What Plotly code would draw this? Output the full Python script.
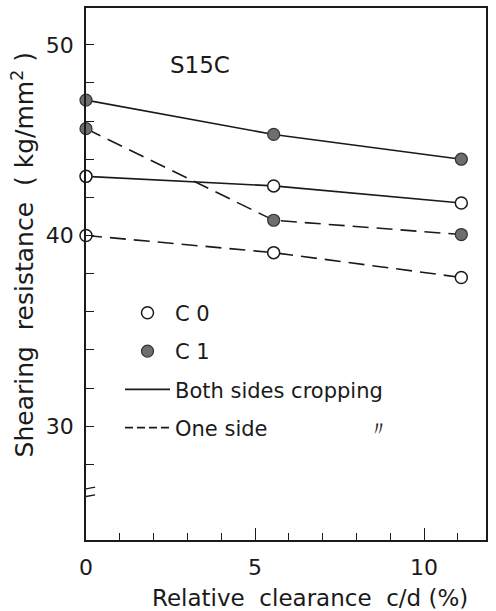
import plotly.graph_objects as go

# ---- data ----
clearance = [0.0, 5.55, 11.1]                 # relative clearance c/d (%)
c0_both = [43.1, 42.6, 41.7]                  # C0, both sides cropping
c0_one = [40.0, 39.1, 37.8]                   # C0, one side cropping
c1_both = [47.1, 45.3, 44.0]                  # C1, both sides cropping
c1_one = [45.6, 40.8, 40.05]                  # C1, one side cropping

x_major = [0, 5, 10]
x_labels = ["0", "5", "10"]
x_minor = [1, 2, 3, 4, 6, 7, 8, 9, 11]
y_major = [30, 40, 50]
y_labels = ["30", "40", "50"]
y_minor = [28, 32, 34, 36, 38, 42, 44, 46, 48]

FONT = "DejaVu Sans"
INK = "#1a1a1a"
GREY = "#6e6e6e"
DASH = "16px,8px"

open_marker = dict(symbol="circle", size=12, color="white", line=dict(color=INK, width=1.5))
fill_marker = dict(symbol="circle", size=12, color=GREY, line=dict(color="#333333", width=1.2))

fig = go.Figure()

series = [
    (c0_both, "solid", open_marker),
    (c0_one, DASH, open_marker),
    (c1_both, "solid", fill_marker),
    (c1_one, DASH, fill_marker),
]
for ys, dash, mk in series:
    fig.add_trace(go.Scatter(
        x=clearance, y=ys, mode="lines+markers",
        line=dict(color=INK, width=1.6, dash=dash),
        marker=mk, cliponaxis=False, showlegend=False, hoverinfo="skip",
    ))

# legend-only entries
fig.add_trace(go.Scatter(x=[None], y=[None], mode="markers", marker=open_marker,
                         name="C 0", legendgroup="a"))
fig.add_trace(go.Scatter(x=[None], y=[None], mode="markers", marker=fill_marker,
                         name="C 1", legendgroup="b"))
fig.add_trace(go.Scatter(x=[None], y=[None], mode="lines",
                         line=dict(color=INK, width=1.6),
                         name="Both sides cropping", legendgroup="c"))
fig.add_trace(go.Scatter(x=[None], y=[None], mode="lines",
                         line=dict(color=INK, width=1.6, dash="8px,4px"),
                         name="One side" + "\u00a0" * 15 + "\u3003", legendgroup="d"))

fig.update_layout(
    width=496, height=611,
    margin=dict(l=86, r=10, t=6, b=71),
    paper_bgcolor="white", plot_bgcolor="white",
    font=dict(family=FONT, size=22, color=INK),
    showlegend=True,
    legend=dict(
        x=0.085, y=0.465, xanchor="left", yanchor="top",
        bgcolor="rgba(0,0,0,0)", borderwidth=0,
        font=dict(family=FONT, size=21, color=INK),
        itemwidth=45, tracegroupgap=8,
    ),
    xaxis=dict(
        range=[0, 11.83], showgrid=False, zeroline=False,
        showline=True, linecolor=INK, linewidth=1.5, mirror=True,
        tickmode="array", tickvals=x_major, ticktext=x_labels,
        ticks="inside", ticklen=12, tickwidth=1.3, tickcolor=INK,
        ticklabelstandoff=7,
        minor=dict(tickmode="array", tickvals=x_minor, ticks="inside",
                   ticklen=7, tickwidth=1.3, tickcolor=INK, showgrid=False),
        tickfont=dict(family=FONT, size=22, color=INK),
    ),
    yaxis=dict(
        range=[24.03, 51.93], showgrid=False, zeroline=False,
        showline=True, linecolor=INK, linewidth=1.5, mirror=True,
        tickmode="array", tickvals=y_major, ticktext=y_labels,
        ticks="inside", ticklen=8, tickwidth=1.3, tickcolor=INK,
        ticklabelstandoff=6,
        minor=dict(tickmode="array", tickvals=y_minor, ticks="inside",
                   ticklen=8, tickwidth=1.3, tickcolor=INK, showgrid=False),
        tickfont=dict(family=FONT, size=22, color=INK),
    ),
)

# axis titles
fig.add_annotation(text="Relative  clearance  c/d (%)", xref="paper", yref="paper",
                   x=0.56, y=0, yshift=-58, xanchor="center", yanchor="middle",
                   showarrow=False, font=dict(family=FONT, size=23, color=INK))
fig.add_annotation(text="Shearing  resistance  ( kg/mm<sup>2</sup> )", xref="paper", yref="paper",
                   x=0, xshift=-63, y=0.535, xanchor="center", yanchor="middle",
                   textangle=-90, showarrow=False, font=dict(family=FONT, size=25, color=INK))
fig.add_annotation(text="S15C", xref="x", yref="y", x=3.37, y=48.95,
                   showarrow=False, font=dict(family=FONT, size=23, color=INK))

# axis break marks
for yb in (26.7, 26.3):
    fig.add_shape(type="line", xref="x", yref="y", x0=-0.33, x1=0.27,
                  y0=yb - 0.1, y1=yb + 0.1, line=dict(color=INK, width=1.3))

fig.write_html("out.html",
               config={"displayModeBar": False},
               post_script="document.body.style.margin='0';document.body.style.overflow='hidden';")
